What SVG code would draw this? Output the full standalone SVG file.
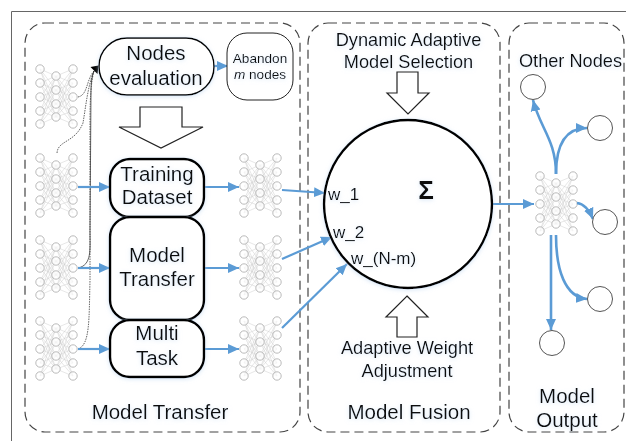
<svg xmlns="http://www.w3.org/2000/svg" width="626" height="441" viewBox="0 0 626 441">
<style>
text{font-family:"Liberation Sans",Arial,sans-serif;fill:#111;text-anchor:middle;filter:url(#glow)}
.panel{fill:none;stroke:#444;stroke-width:1.2;stroke-dasharray:9 5}
.box{fill:#fff;stroke:#000;stroke-width:2.4;filter:url(#glow)}
.thin{fill:#fff;stroke:#222;stroke-width:1}
.big{fill:#fff;stroke:#222;stroke-width:1.2;stroke-linejoin:miter}
.blue{fill:none;stroke:#5b9bd5;stroke-width:2.2;marker-end:url(#ah)}
.cur{stroke-width:2.6}
.dot{fill:none;stroke:#222;stroke-width:.7;stroke-dasharray:1.5 1}
.out{fill:#fff;stroke:#555;stroke-width:1}
.w{text-anchor:start;font-size:17px}
.l{font-size:20.5px}
.m{font-size:18.2px}
</style>
<defs>
<filter id="glow" x="-20%" y="-20%" width="140%" height="140%"><feDropShadow dx="0" dy="1" stdDeviation="2" flood-color="#bcd4f0" flood-opacity=".6"/></filter>
<marker id="ah" markerUnits="userSpaceOnUse" markerWidth="12" markerHeight="12" refX="11" refY="6" orient="auto"><path d="M0 1L11 6L0 11Z" fill="#5b9bd5"/></marker>
<g id="net">
<path fill="none" stroke="#cfcfcf" stroke-width=".5" d="M-16-28L0-21M-16-28L0-7M-16-28L0 7M-16-28L0 20M-16-14L0-21M-16-14L0-7M-16-14L0 7M-16-14L0 20M-16 0L0-21M-16 0L0-7M-16 0L0 7M-16 0L0 20M-16 14L0-21M-16 14L0-7M-16 14L0 7M-16 14L0 20M-16 27L0-21M-16 27L0-7M-16 27L0 7M-16 27L0 20M17-28L0-21M17-28L0-7M17-28L0 7M17-28L0 20M17-14L0-21M17-14L0-7M17-14L0 7M17-14L0 20M17 0L0-21M17 0L0-7M17 0L0 7M17 0L0 20M17 14L0-21M17 14L0-7M17 14L0 7M17 14L0 20M17 27L0-21M17 27L0-7M17 27L0 7M17 27L0 20"/>
<g fill="#fff" fill-opacity=".7" stroke="#a8a8a8" stroke-width=".8">
<circle cx="-16" cy="-28" r="4.200"/><circle cx="-16" cy="-14" r="4.200"/><circle cx="-16" cy="0" r="4.200"/><circle cx="-16" cy="14" r="4.200"/><circle cx="-16" cy="27" r="4.200"/>
<circle cx="0" cy="-21" r="4.200"/><circle cx="0" cy="-7" r="4.200"/><circle cx="0" cy="7" r="4.200"/><circle cx="0" cy="20" r="4.200"/>
<circle cx="17" cy="-28" r="4.200"/><circle cx="17" cy="-14" r="4.200"/><circle cx="17" cy="0" r="4.200"/><circle cx="17" cy="14" r="4.200"/><circle cx="17" cy="27" r="4.200"/>
</g></g>
</defs>
<rect width="626" height="441" fill="#fff"/>
<path d="M626 11.500H11.500V441" fill="none" stroke="#666" stroke-width="1"/>
<g id="panels">
<rect id="panel-transfer" class="panel" x="25" y="23" width="275" height="409" rx="20"/>
<rect id="panel-fusion" class="panel" x="308" y="23" width="192" height="409" rx="20"/>
<rect id="panel-output" class="panel" x="509" y="23" width="115" height="409" rx="20"/>
</g>
<g id="nets">
<use href="#net" x="56" y="97"/><use href="#net" x="56" y="186"/><use href="#net" x="56" y="268"/><use href="#net" x="56" y="349"/>
<use href="#net" x="260" y="186"/><use href="#net" x="260" y="268"/><use href="#net" x="260" y="349"/><use href="#net" x="556" y="204"/>
</g>
<g id="connectors">
<path class="dot" d="M57 153C58 140 75 143 83 123C86 105 88 85 94 71"/>
<path class="dot" d="M78 97C88 95 86 80 94 71"/>
<path class="dot" d="M78 268C92 265 90 250 90 230L91 90Q91 78 94 71" style="stroke-dasharray:none"/>
<path class="dot" d="M78 349C90 345 89 320 90 280L90 120Q90 85 94 71"/>
<path d="M90.500 67L98.500 65.500L97.500 74Z" fill="#000"/>
<path class="blue" d="M78 187H110"/><path class="blue" d="M203 187H239"/>
<path class="blue" d="M78 268H110"/><path class="blue" d="M203 268H239"/>
<path class="blue" d="M78 349H110"/><path class="blue" d="M203 349H239"/>
<path class="blue" d="M214 66H228"/>
<path class="blue" d="M282 190L325 193"/><path class="blue" d="M282 259L332 237"/><path class="blue" d="M282 328L347 264"/>
<path class="blue" d="M492 204H534"/>
<path class="blue cur" d="M556 174C556 140 540 128 533 100"/>
<path class="blue cur" d="M556 174C556 145 565 128 587 128"/>
<path class="blue cur" d="M577 203C585 204 590 212 593 219"/>
<path class="blue cur" d="M556 235C556 270 565 297 587 299"/>
<path class="blue cur" d="M551 235V330"/>
</g>
<g id="nodes-evaluation"><rect class="box" style="stroke-width:1.500" x="99" y="38" width="115" height="57" rx="28"/><text class="l" x="156" y="60">Nodes</text><text class="l" x="156" y="85">evaluation</text></g>
<g id="abandon"><rect class="thin" x="227" y="33" width="66" height="67" rx="20"/><text x="260" y="63" font-size="13.600">Abandon</text><text x="260" y="79" font-size="13.600"><tspan font-style="italic">m</tspan> nodes</text></g>
<g id="arrow-down"><path class="big" d="M140 107H182V127H203L161 148L119 127H140Z"/></g>
<g id="training"><rect class="box" x="110" y="159" width="94" height="58" rx="20"/><text class="l" x="157" y="181">Training</text><text class="l" x="157" y="204">Dataset</text></g>
<g id="transfer"><rect class="box" x="110" y="217" width="94" height="103" rx="20"/><text class="l" x="157" y="262">Model</text><text class="l" x="157" y="286">Transfer</text></g>
<g id="multi"><rect class="box" x="110" y="320" width="94" height="57" rx="20"/><text class="l" x="157" y="340">Multi</text><text class="l" x="157" y="365">Task</text></g>
<text class="l" x="160" y="419">Model Transfer</text>
<g id="fusion"><circle class="box" cx="408" cy="204" r="84"/><text x="426" y="199" font-size="26" font-weight="bold">Σ</text>
<text class="w" x="328" y="200">w_1</text><text class="w" x="333" y="238">w_2</text><text class="w" x="351" y="264">w_(N-m)</text></g>
<g id="selection"><text class="m" x="408.500" y="46">Dynamic Adaptive</text><text class="m" x="408.500" y="68">Model Selection</text><path class="big" d="M397 72H418V93H429L408 114L387 93H397Z"/></g>
<g id="adjust"><path class="big" d="M407 296L428 317H417V337H397V317H386Z"/><text class="m" x="407" y="354">Adaptive Weight</text><text class="m" x="407" y="377">Adjustment</text></g>
<text class="l" x="409" y="419">Model Fusion</text>
<g id="output"><text class="m" x="570.500" y="67">Other Nodes</text>
<circle class="out" cx="533" cy="87" r="12.500"/><circle class="out" cx="600" cy="128" r="12.500"/><circle class="out" cx="605" cy="222" r="12.500"/><circle class="out" cx="600" cy="299" r="12.500"/><circle class="out" cx="552" cy="343" r="12.500"/>
<text class="l" x="567" y="403">Model</text><text class="l" x="567" y="427">Output</text></g>
</svg>
